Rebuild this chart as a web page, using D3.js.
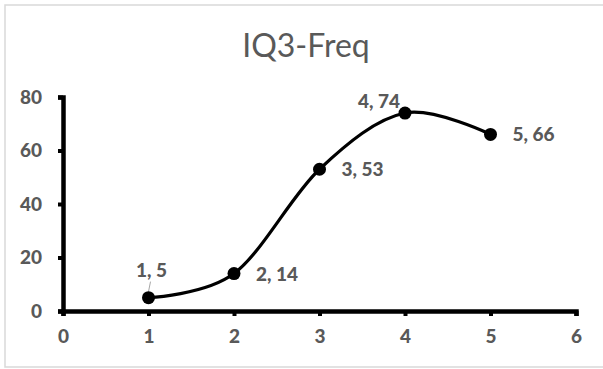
<!DOCTYPE html>
<html lang="en">
<head>
<meta charset="utf-8">
<title>IQ3-Freq</title>
<script src="https://d3js.org/d3.v7.min.js"></script>
<style>
  body { margin: 0; background: #fff; }
  text { font-family: Lato, "Open Sans", sans-serif; }
  .tick text { font-size: 19px; font-weight: 900; fill: #595959; }
  .lbl { font-size: 19px; font-weight: 900; fill: #595959; }
</style>
</head>
<body>
<div id="chart"></div>
<script>
var xs = [1, 2, 3, 4, 5];
var freq = [5, 14, 53, 74, 66];
var xTicks = [0, 1, 2, 3, 4, 5, 6];
var yTicks = [0, 20, 40, 60, 80];
// where each data label sits relative to its point
var labelPos = ["above", "right", "right", "aboveLeft", "right"];

var width = 603, height = 369;
var svg = d3.select("#chart").append("svg")
    .attr("width", width)
    .attr("height", height);

// chart border (right edge runs off the picture)
svg.append("rect")
    .attr("x", 5).attr("y", 5)
    .attr("width", 610).attr("height", 362)
    .attr("fill", "#fff")
    .attr("stroke", "#d9d9d9")
    .attr("stroke-width", 1.5);

svg.append("text")
    .attr("x", 306).attr("y", 57)
    .attr("text-anchor", "middle")
    .style("font-size", "32px")
    .style("fill", "#595959")
    .text("IQ3-Freq");

var x = d3.scaleLinear().domain([0, 6]).range([63, 576]);
var y = d3.scaleLinear().domain([0, 80]).range([311, 97]);

var xAxis = svg.append("g")
    .attr("transform", "translate(0," + y(0) + ")")
    .call(d3.axisBottom(x).tickValues(xTicks).tickSize(5).tickPadding(12).tickFormat(d3.format("d")));
var yAxis = svg.append("g")
    .attr("transform", "translate(" + x(0) + ",0)")
    .call(d3.axisLeft(y).tickValues(yTicks).tickSize(5).tickPadding(16).tickFormat(d3.format("d")));

[xAxis, yAxis].forEach(function(a) {
  a.select(".domain").attr("stroke", "#000").attr("stroke-width", 4.5);
  a.selectAll(".tick line").attr("stroke", "#000").attr("stroke-width", 4);
});
xAxis.selectAll(".tick text").attr("dy", "0.8em");

var pts = xs.map(function(d, i) { return [d, freq[i]]; });

var line = d3.line()
    .x(function(d) { return x(d[0]); })
    .y(function(d) { return y(d[1]); })
    .curve(d3.curveCardinal.tension(0));

svg.append("path")
    .datum(pts)
    .attr("d", line)
    .attr("fill", "none")
    .attr("stroke", "#000")
    .attr("stroke-width", 3.2);

// leader line for the first label
svg.append("line")
    .attr("x1", x(1) + 2).attr("y1", y(5) - 16)
    .attr("x2", x(1)).attr("y2", y(5) - 6)
    .attr("stroke", "#a6a6a6")
    .attr("stroke-width", 1);

svg.selectAll("circle")
    .data(pts)
    .enter().append("circle")
    .attr("cx", function(d) { return x(d[0]); })
    .attr("cy", function(d) { return y(d[1]); })
    .attr("r", 6.5)
    .attr("fill", "#000");

svg.selectAll(".lbl")
    .data(pts)
    .enter().append("text")
    .attr("class", "lbl")
    .attr("x", function(d, i) {
      var p = labelPos[i];
      if (p === "right") return x(d[0]) + 22;
      if (p === "aboveLeft") return x(d[0]) - 5;
      return x(d[0]) + 3;
    })
    .attr("y", function(d, i) {
      var p = labelPos[i];
      if (p === "right") return y(d[1]) + 7;
      if (p === "aboveLeft") return y(d[1]) - 5;
      return y(d[1]) - 21;
    })
    .attr("text-anchor", function(d, i) {
      var p = labelPos[i];
      if (p === "right") return "start";
      if (p === "aboveLeft") return "end";
      return "middle";
    })
    .text(function(d) { return d[0] + ", " + d[1]; });
</script>
</body>
</html>
